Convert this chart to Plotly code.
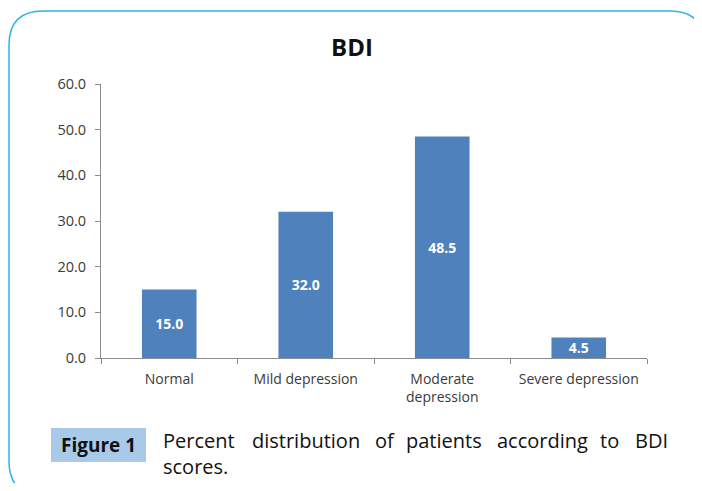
import plotly.graph_objects as go

categories = ["Normal", "Mild depression", "Moderate<br>depression", "Severe depression"]
values = [15.0, 32.0, 48.5, 4.5]
value_labels = ["15.0", "32.0", "48.5", "4.5"]
y_ticks = [0, 10, 20, 30, 40, 50, 60]
y_tick_labels = ["0.0", "10.0", "20.0", "30.0", "40.0", "50.0", "60.0"]
title_text = "BDI"
fig_label = "Figure 1"
caption_words = ["Percent", "distribution", "of", "patients", "according", "to", "BDI"]
caption_word_x = [161, 250, 373, 404, 495, 598, 633]
caption_line2 = "scores."

# page offset (default body margin of the html page)
O = 8
W, H = 702 - O, 491 - 2 * O
L, R, T, B = 101 - O, 647 - O, 84 - O, 358 - O


def px(x):
    return (x - O - L) / (R - L)


def py(y):
    return (B - (y - O)) / (B - T)


font_main = "Open Sans, Lato, sans-serif"

fig = go.Figure(go.Bar(
    x=categories, y=values, text=value_labels,
    textposition="inside", insidetextanchor="middle", constraintext="none",
    textfont=dict(color="white", size=14, family=font_main, weight="bold"),
    marker=dict(color="#4f81bd", line=dict(width=0)),
    width=0.4, cliponaxis=False, hoverinfo="skip",
))

fig.update_layout(
    width=W, height=H,
    margin=dict(l=L, r=W - R, t=T, b=H - B),
    paper_bgcolor="white", plot_bgcolor="white",
    showlegend=False,
    font=dict(family=font_main, color="#3a3a3a", size=14),
)
fig.update_yaxes(
    range=[0, 60], tickvals=y_ticks, ticktext=y_tick_labels,
    showgrid=False, zeroline=False, showline=True, linecolor="#8c8c8c", linewidth=1,
    ticks="outside", ticklen=5, tickcolor="#8c8c8c",
    tickfont=dict(size=14.5, color="#3a3a3a"),
    ticklabelstandoff=6,
)
fig.update_xaxes(
    showgrid=False, showline=True, linecolor="#8c8c8c", linewidth=1,
    ticks="outside", ticklen=5, tickcolor="#8c8c8c", tickson="boundaries",
    tickfont=dict(size=14, color="#3a3a3a"),
    ticklabelstandoff=8,
)

# rounded border
x0, y0, x1, y1, r = 9, 11, 704, 495, 34
path = (
    f"M {px(x0 + r)},{py(y0)} L {px(x1 - r)},{py(y0)} Q {px(x1)},{py(y0)} {px(x1)},{py(y0 + r)} "
    f"L {px(x1)},{py(y1 - r)} Q {px(x1)},{py(y1)} {px(x1 - r)},{py(y1)} "
    f"L {px(x0 + r)},{py(y1)} Q {px(x0)},{py(y1)} {px(x0)},{py(y1 - r)} "
    f"L {px(x0)},{py(y0 + r)} Q {px(x0)},{py(y0)} {px(x0 + r)},{py(y0)} Z"
)
fig.add_shape(type="path", path=path, xref="paper", yref="paper",
              line=dict(color="#2bb5ec", width=1.5), fillcolor="rgba(0,0,0,0)", layer="below")

# figure label box
fig.add_shape(type="rect", xref="paper", yref="paper",
              x0=px(51), x1=px(146), y0=py(462), y1=py(428),
              fillcolor="#a9c9e9", line=dict(width=0))

fig.add_annotation(text=f"<b>{title_text}</b>", xref="paper", yref="paper",
                   x=px(351.5), y=py(46), xanchor="center", yanchor="middle", showarrow=False,
                   font=dict(size=24, color="#111111", family=font_main))
fig.add_annotation(text=f"<b>{fig_label}</b>", xref="paper", yref="paper",
                   x=px(98.5), y=py(445), xanchor="center", yanchor="middle", showarrow=False,
                   font=dict(size=19, color="#111111", family=font_main))
for w, xw in zip(caption_words, caption_word_x):
    fig.add_annotation(text=w, xref="paper", yref="paper", x=px(xw), y=py(440),
                       xanchor="left", yanchor="middle", showarrow=False,
                       font=dict(size=20, color="#111111", family=font_main))
fig.add_annotation(text=caption_line2, xref="paper", yref="paper", x=px(161), y=py(466),
                   xanchor="left", yanchor="middle", showarrow=False,
                   font=dict(size=20, color="#111111", family=font_main))

fig.write_html("out.html")
